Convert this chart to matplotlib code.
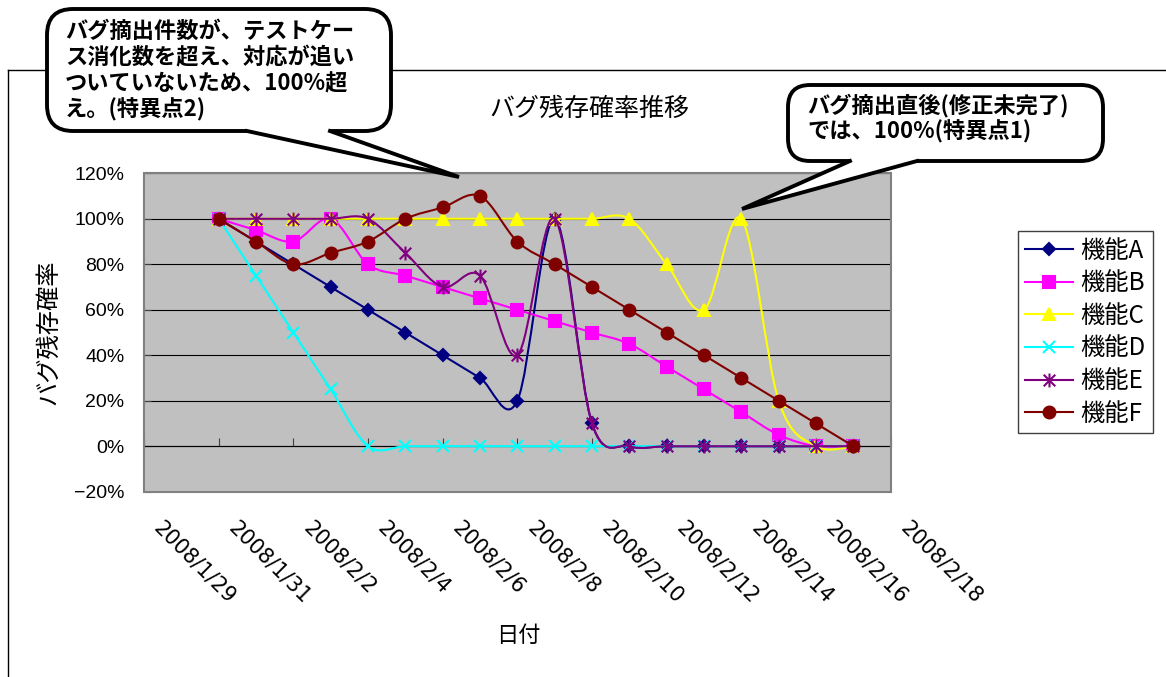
import numpy as np
import matplotlib
matplotlib.use('Agg')
import matplotlib.pyplot as plt
import matplotlib.dates as mdates
import matplotlib.transforms as mtransforms
from matplotlib.path import Path
from matplotlib.patches import PathPatch, FancyBboxPatch, Polygon, Rectangle
from matplotlib.lines import Line2D
from matplotlib.ticker import PercentFormatter, FuncFormatter

plt.rcParams['font.family'] = ['Noto Sans CJK JP', 'DejaVu Sans']

# data (daily, 2008/1/31 - 2008/2/17)
dates = np.arange('2008-01-31', '2008-02-18', dtype='datetime64[D]')
names = ['機能A', '機能B', '機能C', '機能D', '機能E', '機能F']
func_a = [1.00, 0.90, 0.80, 0.70, 0.60, 0.50, 0.40, 0.30, 0.20, 1.00, 0.10, 0, 0, 0, 0, 0, 0, 0]
func_b = [1.00, 0.95, 0.90, 1.00, 0.80, 0.75, 0.70, 0.65, 0.60, 0.55, 0.50, 0.45, 0.35, 0.25, 0.15, 0.05, 0, 0]
func_c = [1.00, 1.00, 1.00, 1.00, 1.00, 1.00, 1.00, 1.00, 1.00, 1.00, 1.00, 1.00, 0.80, 0.60, 1.00, 0.20, 0, 0]
func_d = [1.00, 0.75, 0.50, 0.25, 0, 0, 0, 0, 0, 0, 0, 0, 0, 0, 0, 0, 0, 0]
func_e = [1.00, 1.00, 1.00, 1.00, 1.00, 0.85, 0.70, 0.75, 0.40, 1.00, 0.10, 0, 0, 0, 0, 0, 0, 0]
func_f = [1.00, 0.90, 0.80, 0.85, 0.90, 1.00, 1.05, 1.10, 0.90, 0.80, 0.70, 0.60, 0.50, 0.40, 0.30, 0.20, 0.10, 0]
x_start, x_end = '2008-01-29', '2008-02-18'

colors = ['#000080', '#FF00FF', '#FFFF00', '#00FFFF', '#800080', '#800000']
asterisk = Path([(-1, -1), (1, 1), (-1, 1), (1, -1), (0, -1.2), (0, 1.2)],
                [Path.MOVETO, Path.LINETO, Path.MOVETO, Path.LINETO, Path.MOVETO, Path.LINETO])
markers = ['D', 's', '^', 'x', asterisk, 'o']
msizes = [6.5, 8, 9, 9, 10, 8.5]


def smooth_path(xs, ys):
    # excel-like smoothed line: catmull-rom through the points as bezier segments
    pts = np.column_stack([xs, ys])
    n = len(pts)
    verts = [pts[0]]
    codes = [Path.MOVETO]
    for i in range(n - 1):
        p0 = pts[i - 1] if i > 0 else pts[i]
        p1, p2 = pts[i], pts[i + 1]
        p3 = pts[i + 2] if i + 2 < n else pts[i + 1]
        verts += [p1 + (p2 - p0) / 6, p2 - (p3 - p1) / 6, p2]
        codes += [Path.CURVE4] * 3
    return Path(verts, codes)


def fmt_date(v, pos):
    d = mdates.num2date(v)
    return '%d/%d/%d' % (d.year, d.month, d.day)


W, H = 1166, 677
fig = plt.figure(figsize=(W / 100, H / 100), dpi=100)
ax = fig.add_axes([144 / W, 1 - 491.7 / H, 746.7 / W, 318.4 / H])
ax.set_facecolor('#C0C0C0')

xs = mdates.date2num(dates)
series = [func_a, func_b, func_c, func_d, func_e, func_f]
for i, vals in enumerate(series):
    c = colors[i]
    ax.add_patch(PathPatch(smooth_path(xs, vals), fill=False, edgecolor=c, lw=1.5, zorder=3 + 2 * i))
    ax.plot(xs, vals, ls='none', marker=markers[i], ms=msizes[i], color=c, mec=c, mfc=c,
            mew=1.5, zorder=4 + 2 * i, clip_on=False)

x0 = mdates.date2num(np.datetime64(x_start))
x1 = mdates.date2num(np.datetime64(x_end))
ax.set_xlim(x0, x1)
ax.set_ylim(-0.2, 1.2)
xticks = np.arange(x0, x1 + 1, 2)
ax.set_xticks(xticks)
ax.set_yticks(np.arange(-0.2, 1.21, 0.2))
ax.yaxis.set_major_formatter(PercentFormatter(1.0, decimals=0))
ax.yaxis.grid(True, color='black', lw=0.8)
ax.set_axisbelow(True)

# plot area border; the horizontal axis itself crosses at 0%
for s in ['top', 'right', 'left']:
    ax.spines[s].set_visible(False)
ax.spines['bottom'].set_position(('data', 0))
ax.spines['bottom'].set_color('black')
ax.spines['bottom'].set_linewidth(0.8)
ax.add_patch(Rectangle((0, 0), 1, 1, transform=ax.transAxes, fill=False, ec='#808080',
                       lw=1.5, clip_on=False, zorder=2.6))

ax.tick_params(axis='y', direction='in', length=5, color='#404040', pad=14,
               labelsize=14, labelfontfamily='Liberation Sans')
ax.tick_params(axis='x', direction='in', length=6, color='#404040', labelbottom=False)

# date labels sit below the plot area
sec = ax.secondary_xaxis('bottom')
sec.set_xticks(xticks)
sec.xaxis.set_major_formatter(FuncFormatter(fmt_date))
sec.spines['bottom'].set_visible(False)
sec.tick_params(length=0, pad=19, labelsize=15, labelfontfamily='DejaVu Sans', labelrotation=-45)
offset = mtransforms.ScaledTranslation(6 / 100, 0, fig.dpi_scale_trans)
for lab in sec.get_xticklabels():
    lab.set_ha('left')
    lab.set_transform(lab.get_transform() + offset)

fig.text(589 / W, 1 - 109 / H, 'バグ残存確率推移', ha='center', va='center', fontsize=18)
fig.text(48 / W, 1 - 332 / H, 'バグ残存確率', rotation=90, ha='center', va='center', fontsize=17.5)
fig.text(518 / W, 1 - 636 / H, '日付', ha='center', va='center', fontsize=16)

handles = [Line2D([], [], color=colors[i], lw=1.5, marker=markers[i], ms=msizes[i],
                  mec=colors[i], mfc=colors[i], mew=1.5) for i in range(6)]
fig.legend(handles, names, loc='upper left', bbox_to_anchor=(1018 / W, 1 - 231 / H),
           borderaxespad=0, fancybox=False, edgecolor='#404040', framealpha=1,
           fontsize=17.5, handlelength=2.0, handletextpad=0.3, labelspacing=0.27, borderpad=0.28)

# overlay in pixel coords for chart border and callouts
ov = fig.add_axes([0, 0, 1, 1], zorder=10)
ov.set_xlim(0, W)
ov.set_ylim(H, 0)
ov.axis('off')
ov.plot([8, W], [70, 70], color='black', lw=1)
ov.plot([8, 8], [70, H], color='black', lw=1)


def bubble(bx0, by0, bx1, by1, bl, br, tip, r):
    ov.add_patch(FancyBboxPatch((bx0, by0), bx1 - bx0, by1 - by0,
                                boxstyle='round,pad=0,rounding_size=%d' % r,
                                fc='white', ec='black', lw=2.8, zorder=2))
    ov.add_patch(Polygon([(bl, by1 - 5), (bl, by1), tip, (br, by1), (br, by1 - 5)],
                         closed=True, fc='white', ec='none', zorder=3))
    ov.plot([bl, tip[0], br], [by1, tip[1], by1], color='black', lw=2.8,
            solid_joinstyle='miter', zorder=4)


bubble(47, 9, 391, 131, 247, 330, (459, 177), 26)
bubble(788, 85, 1103, 161, 850, 917, (742, 209), 22)

lines1 = ['バグ摘出件数が、テストケー', 'ス消化数を超え、対応が追い',
          'ついていないため、100%超', 'え。(特異点2)']
for k, line in enumerate(lines1):
    ov.text(65, 38 + 26 * k, line, fontsize=16, fontweight='bold', va='baseline', ha='left', zorder=5)
lines2 = ['バグ摘出直後(修正未完了)', 'では、100%(特異点1)']
for k, line in enumerate(lines2):
    ov.text(807, 112 + 26 * k, line, fontsize=16, fontweight='bold', va='baseline', ha='left', zorder=5)

fig.savefig('out.png', dpi=100)
